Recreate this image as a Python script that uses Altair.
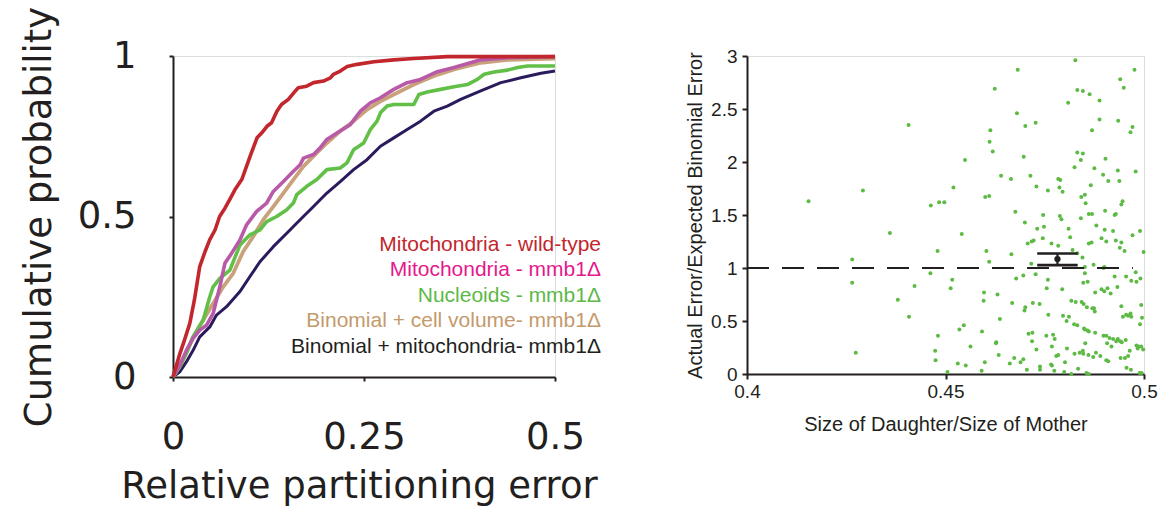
import altair as alt
import pandas as pd

# ---------------- Left panel: cumulative distributions ----------------
wt_x = [0, 0.009, 0.015, 0.022, 0.028, 0.035, 0.042, 0.048, 0.055, 0.061, 0.068, 0.074, 0.081,
        0.090, 0.094, 0.101, 0.110, 0.116, 0.123, 0.129, 0.136, 0.142, 0.151, 0.158, 0.164,
        0.175, 0.184, 0.197, 0.206, 0.210, 0.219, 0.228, 0.241, 0.263, 0.289, 0.315, 0.359,
        0.420, 0.500]
wt_y = [0, 0.073, 0.115, 0.167, 0.240, 0.344, 0.391, 0.427, 0.458, 0.500, 0.526, 0.552, 0.583,
        0.615, 0.641, 0.688, 0.745, 0.760, 0.781, 0.792, 0.828, 0.849, 0.865, 0.885, 0.901,
        0.906, 0.917, 0.922, 0.932, 0.943, 0.953, 0.967, 0.974, 0.982, 0.988, 0.992, 0.998,
        0.998, 0.998]

mito_x = [0, 0.0088, 0.0175, 0.0263, 0.035, 0.0438, 0.0525, 0.0613, 0.0679, 0.0766, 0.0876,
          0.0963, 0.1095, 0.1226, 0.1313, 0.1445, 0.1576, 0.1664, 0.1708, 0.1839, 0.1926,
          0.2014, 0.2145, 0.2320, 0.2452, 0.2583, 0.2715, 0.2890, 0.3065, 0.3240, 0.3459,
          0.3678, 0.4028, 0.4378, 0.5]
mito_y = [0, 0.036, 0.083, 0.120, 0.146, 0.161, 0.198, 0.281, 0.354, 0.385, 0.427, 0.474,
          0.516, 0.542, 0.578, 0.609, 0.641, 0.661, 0.682, 0.693, 0.714, 0.740, 0.760, 0.786,
          0.828, 0.854, 0.870, 0.896, 0.917, 0.927, 0.951, 0.964, 0.988, 0.995, 0.998]

nuc_x = [0, 0.0088, 0.0175, 0.0263, 0.0394, 0.0482, 0.0525, 0.0613, 0.0744, 0.0876, 0.1007,
         0.1138, 0.1226, 0.1357, 0.1489, 0.1576, 0.1620, 0.1751, 0.1883, 0.2014, 0.2189,
         0.2277, 0.2364, 0.2496, 0.2583, 0.2671, 0.2715, 0.2802, 0.2890, 0.3152, 0.3218,
         0.3327, 0.3503, 0.3678, 0.3853, 0.3984, 0.4072, 0.4203, 0.4378, 0.4510, 0.4641, 0.5]
nuc_y = [0, 0.031, 0.073, 0.125, 0.177, 0.250, 0.281, 0.307, 0.333, 0.411, 0.443, 0.458,
         0.484, 0.500, 0.521, 0.542, 0.568, 0.594, 0.615, 0.646, 0.651, 0.667, 0.708, 0.729,
         0.771, 0.797, 0.823, 0.844, 0.849, 0.849, 0.880, 0.888, 0.896, 0.904, 0.911, 0.927,
         0.943, 0.950, 0.956, 0.964, 0.969, 0.969]

bvol_x = [0, 0.0088, 0.0175, 0.0263, 0.0394, 0.0525, 0.0657, 0.0788, 0.0919, 0.1051, 0.1182,
          0.1313, 0.1445, 0.1576, 0.1708, 0.1839, 0.2014, 0.2189, 0.2364, 0.2539, 0.2715,
          0.2890, 0.3152, 0.3415, 0.3678, 0.4028, 0.4378, 0.5]
bvol_y = [0, 0.036, 0.078, 0.125, 0.177, 0.229, 0.281, 0.323, 0.391, 0.438, 0.490, 0.531,
          0.573, 0.615, 0.656, 0.688, 0.729, 0.766, 0.797, 0.833, 0.859, 0.880, 0.911, 0.938,
          0.958, 0.979, 0.988, 0.992]

bmito_x = [0, 0.0088, 0.0175, 0.0263, 0.035, 0.0482, 0.0569, 0.0701, 0.0876, 0.1007, 0.1138,
           0.1313, 0.1489, 0.1664, 0.1839, 0.2014, 0.2189, 0.2364, 0.2539, 0.2715, 0.2890,
           0.3065, 0.3240, 0.3415, 0.3590, 0.3765, 0.4028, 0.4291, 0.4553, 0.4816, 0.5]
bmito_y = [0, 0.016, 0.047, 0.083, 0.125, 0.156, 0.193, 0.219, 0.266, 0.313, 0.359, 0.406,
           0.448, 0.490, 0.531, 0.573, 0.609, 0.646, 0.677, 0.719, 0.745, 0.771, 0.797, 0.828,
           0.844, 0.865, 0.891, 0.917, 0.932, 0.946, 0.953]

curve_names = ["Mitochondria - wild-type", "Mitochondria - mmb1\u0394", "Nucleoids - mmb1\u0394",
               "Binomial + cell volume- mmb1\u0394", "Binomial + mitochondria- mmb1\u0394"]
curve_xs = [wt_x, mito_x, nuc_x, bvol_x, bmito_x]
curve_ys = [wt_y, mito_y, nuc_y, bvol_y, bmito_y]
line_colors = ["#C1272D", "#B85AA8", "#62BF47", "#C9A17A", "#2B1A5C"]
line_widths = [3.6, 3.6, 3.6, 3.8, 3.0]
label_colors = ["#C1272D", "#E5188C", "#5DB946", "#C49A6C", "#231F20"]

# ---------------- Right panel: scatter ----------------
daughter_ratio = [
    0.4155, 0.4292, 0.4265, 0.4265, 0.4274, 0.4360, 0.4407, 0.4380, 0.4422, 0.4408,
    0.4463, 0.4484, 0.4497, 0.4480, 0.4462, 0.4474, 0.4475, 0.4481, 0.4505, 0.4520,
    0.4549, 0.4541, 0.4517, 0.4513, 0.4535, 0.4546, 0.4531, 0.4551, 0.4563, 0.4591,
    0.4600, 0.4610, 0.4613, 0.4611, 0.4619, 0.4624, 0.4640, 0.4603, 0.4610, 0.4597,
    0.4596, 0.4631, 0.4637, 0.4628, 0.4627, 0.4592, 0.4599, 0.4634, 0.4682, 0.4680,
    0.4665, 0.4676, 0.4666, 0.4701, 0.4727, 0.4697, 0.4714, 0.4700, 0.4729, 0.4707,
    0.4717, 0.4722, 0.4731, 0.4746, 0.4748, 0.4745, 0.4758, 0.4767, 0.4678, 0.4696,
    0.4716, 0.4727, 0.4755, 0.4758, 0.4668, 0.4699, 0.4701, 0.4720, 0.4737, 0.4709,
    0.4719, 0.4718, 0.4759, 0.4662, 0.4673, 0.4689, 0.4696, 0.4705, 0.4729, 0.4738,
    0.4738, 0.4754, 0.4771, 0.4775, 0.4768, 0.4768, 0.4766, 0.4779, 0.4784, 0.4774,
    0.4809, 0.4832, 0.4846, 0.4832, 0.4846, 0.4863, 0.4827, 0.4825, 0.4841, 0.4784,
    0.4787, 0.4795, 0.4789, 0.4788, 0.4792, 0.4810, 0.4814, 0.4820, 0.4784, 0.4832,
    0.4841, 0.4842, 0.4851, 0.4853, 0.4866, 0.4861, 0.4869, 0.4869, 0.4875, 0.4861,
    0.4868, 0.4880, 0.4888, 0.4888, 0.4893, 0.4897, 0.4903, 0.4902, 0.4901, 0.4905,
    0.4845, 0.4851, 0.4851, 0.4847, 0.4858, 0.4873, 0.4900, 0.4898, 0.4877, 0.4893,
    0.4900, 0.4908, 0.4916, 0.4910, 0.4934, 0.4938, 0.4926, 0.4929, 0.4922, 0.4929,
    0.4935, 0.4940, 0.4949, 0.4946, 0.4943, 0.4966, 0.4971, 0.4976, 0.4979, 0.4939,
    0.4943, 0.4951, 0.4926, 0.4933, 0.4955, 0.4968, 0.4981, 0.4979, 0.4991, 0.4999,
    0.4990, 0.4971, 0.4794, 0.4817, 0.4828, 0.4843, 0.4848, 0.4856, 0.4870, 0.4876,
    0.4874, 0.4796, 0.4805, 0.4811, 0.4824, 0.4832, 0.4849, 0.4851, 0.4858, 0.4861,
    0.4877, 0.4898, 0.4905, 0.4913, 0.4922, 0.4930, 0.4940, 0.4907, 0.4918, 0.4934,
    0.4944, 0.4954, 0.4943, 0.4947, 0.4955, 0.4960, 0.4968, 0.4966, 0.4993, 0.4995,
    0.4990, 0.4981, 0.4986, 0.4993, 0.4998, 0.4984, 0.4964, 0.4941, 0.4952, 0.4960,
    0.4905, 0.4879, 0.4872, 0.4860, 0.4847, 0.4838, 0.4846, 0.4852, 0.4825, 0.4806,
    0.4801, 0.4799, 0.4817, 0.4834, 0.4855, 0.4861, 0.4956, 0.4967, 0.4994, 0.4989,
    0.4890, 0.4910]
error_ratio = [
    1.63, 1.73, 1.08, 0.86, 0.20, 1.33, 2.35, 0.70, 0.83, 0.54,
    1.59, 1.62, 1.62, 1.16, 0.95, 0.22, 0.13, 0.36, 0.02, 1.76,
    2.02, 1.32, 0.89, 0.81, 0.42, 0.46, 0.10, 0.08, 0.26, 0.03,
    1.67, 1.68, 2.30, 2.19, 2.10, 2.69, 1.87, 1.16, 1.06, 0.77,
    0.69, 0.75, 0.52, 0.30, 0.29, 0.40, 0.11, 0.18, 2.87, 2.46,
    1.84, 1.53, 1.13, 2.34, 2.37, 2.05, 1.87, 1.43, 1.77, 1.23,
    1.25, 1.26, 1.37, 1.50, 1.39, 1.28, 1.73, 1.23, 0.90, 0.93,
    1.04, 0.94, 0.81, 0.89, 0.67, 0.60, 0.63, 0.67, 0.66, 0.38,
    0.39, 0.31, 0.56, 0.10, 0.15, 0.11, 0.14, 0.04, 0.23, 0.07,
    0.04, 0.36, 0.37, 0.33, 0.26, 0.08, 0.09, 0.17, 0.18, 0.03,
    2.56, 2.09, 2.08, 2.68, 2.67, 2.64, 2.96, 1.95, 2.02, 1.84,
    1.76, 1.72, 1.83, 1.49, 1.46, 1.37, 1.29, 1.17, 1.21, 1.14,
    1.47, 1.67, 1.69, 1.61, 1.78, 1.51, 1.51, 2.30, 1.94, 1.23,
    1.24, 1.40, 2.58, 2.40, 1.28, 1.88, 2.03, 1.54, 1.36, 1.25,
    1.10, 1.01, 0.95, 0.86, 0.87, 1.03, 1.01, 1.00, 0.77, 0.80,
    0.78, 0.81, 0.76, 1.82, 1.92, 1.82, 1.50, 1.51, 1.35, 1.26,
    2.39, 2.78, 2.70, 1.63, 1.60, 2.28, 2.33, 2.87, 1.91, 1.19,
    1.24, 1.16, 0.92, 0.82, 0.92, 0.88, 0.87, 0.96, 0.90, 1.15,
    1.35, 1.31, 0.80, 0.69, 0.68, 0.68, 0.66, 0.63, 0.62, 0.59,
    0.62, 0.55, 0.50, 0.54, 0.47, 0.46, 0.43, 0.42, 0.41, 0.40,
    0.39, 0.36, 0.36, 0.34, 0.33, 0.31, 0.31, 0.29, 0.26, 0.33,
    0.30, 0.32, 0.64, 0.54, 0.56, 0.55, 0.54, 0.57, 0.65, 0.53,
    0.47, 0.27, 0.26, 0.26, 0.23, 0.24, 0.22, 0.15, 0.15, 0.17,
    0.13, 0.20, 0.16, 0.18, 0.19, 0.20, 0.22, 0.29, 0.19, 0.24,
    0.11, 0.02, 0.00, 0.05, 0.01, 0.00, 0.06, 0.04, 0.01, 0.01,
    0.17, 0.12]

# mean +/- error summary and binomial expectation
summary_x = [0.4782]
summary_mean = [1.084]
summary_lo = [1.027]
summary_hi = [1.137]
cap_left = [0.4731]
cap_right = [0.4833]
expected_level = [1.0]
expected_from = [0.4]
expected_to = [0.4972]

AX = "#231F20"
LEFT_FONT = "DejaVu Sans"
RIGHT_FONT = "Liberation Sans"

# ---------------- build left chart ----------------
rows = []
for name, xs, ys in zip(curve_names, curve_xs, curve_ys):
    for i, (xv, yv) in enumerate(zip(xs, ys)):
        rows.append({"series": name, "err": xv, "prob": yv, "idx": i})
curves_df = pd.DataFrame(rows)

xl_axis = alt.Axis(title="Relative partitioning error", values=[0, 0.25, 0.5], format=".2~f",
                   grid=False, domainColor=AX, domainWidth=2, tickColor=AX, tickWidth=2,
                   tickSize=4, labelFont=LEFT_FONT, labelFontSize=37, labelColor=AX,
                   labelPadding=38, labelFlush=False, titleFont=LEFT_FONT, titleFontSize=37,
                   titleFontWeight="normal", titleColor=AX, titleBaseline="alphabetic",
                   titleY=120, titleX=186)
yl_axis = alt.Axis(title="Cumulative probability", values=[0, 0.5, 1], format=".2~f",
                   grid=False, domainColor=AX, domainWidth=2, tickColor=AX, tickWidth=2,
                   tickSize=4, labelFont=LEFT_FONT, labelFontSize=37, labelColor=AX,
                   labelPadding=33, labelFlush=False, titleFont=LEFT_FONT, titleFontSize=37,
                   titleFontWeight="normal", titleColor=AX, titleBaseline="alphabetic",
                   titleX=-123)
xl_scale = alt.Scale(domain=[0, 0.5], nice=False, zero=False)
yl_scale = alt.Scale(domain=[0, 1], nice=False, zero=False)

draw_order = [4, 3, 2, 1, 0]
left_layers = []
for k in draw_order:
    left_layers.append(
        alt.Chart(curves_df).transform_filter(alt.datum.series == curve_names[k])
        .mark_line(color=line_colors[k], strokeWidth=line_widths[k], strokeJoin="round")
        .encode(x=alt.X("err:Q", scale=xl_scale, axis=xl_axis),
                y=alt.Y("prob:Q", scale=yl_scale, axis=yl_axis),
                order="idx:Q")
    )

label_x = 428
label_y0 = 194.7
label_step = 25.5
for k, name in enumerate(curve_names):
    left_layers.append(
        alt.Chart(pd.DataFrame({"label": [name]}))
        .mark_text(align="right", baseline="alphabetic", font=RIGHT_FONT, fontSize=21,
                   color=label_colors[k])
        .encode(text="label:N", x=alt.value(label_x), y=alt.value(label_y0 + k * label_step))
    )

left = alt.layer(*left_layers).properties(width=382, height=321)

# ---------------- build right chart ----------------
dots_df = pd.DataFrame({"ratio": daughter_ratio, "err": error_ratio})
summary_df = pd.DataFrame({"x": summary_x, "mean": summary_mean, "lo": summary_lo,
                           "hi": summary_hi, "cl": cap_left, "cr": cap_right})
ref_df = pd.DataFrame({"x": expected_from, "x2": expected_to, "y": expected_level})

xr_scale = alt.Scale(domain=[0.4, 0.5], nice=False, zero=False)
yr_scale = alt.Scale(domain=[0, 3], nice=False, zero=False)
xr_axis = alt.Axis(title="Size of Daughter/Size of Mother", values=[0.4, 0.45, 0.5], format=".2~f",
                   grid=False, domainColor=AX, domainWidth=2, tickColor=AX, tickWidth=2,
                   tickSize=5, labelFont=RIGHT_FONT, labelFontSize=19, labelColor=AX,
                   labelPadding=3, labelFlush=False, titleFont=RIGHT_FONT, titleFontSize=20,
                   titleFontWeight="normal", titleColor=AX, titleBaseline="alphabetic",
                   titleY=56)
yr_axis = alt.Axis(title="Actual Error/Expected Binomial Error",
                   values=[0, 0.5, 1, 1.5, 2, 2.5, 3], format=".1~f",
                   grid=False, domainColor=AX, domainWidth=2, tickColor=AX, tickWidth=2,
                   tickSize=5, labelFont=RIGHT_FONT, labelFontSize=19, labelColor=AX,
                   labelPadding=5, labelFlush=False, titleFont=RIGHT_FONT, titleFontSize=20,
                   titleFontWeight="normal", titleColor=AX, titleBaseline="alphabetic",
                   titleX=-46)


def XR(f):
    return alt.X(f, type="quantitative", scale=xr_scale, axis=xr_axis)


def YR(f):
    return alt.Y(f, type="quantitative", scale=yr_scale, axis=yr_axis)


dots = alt.Chart(dots_df).mark_circle(size=16, color="#5DBA44", opacity=1).encode(
    x=XR("ratio"), y=YR("err"))
ref_line = alt.Chart(ref_df).mark_rule(color=AX, strokeWidth=2.2, strokeDash=[22, 13]).encode(
    x=XR("x"), x2="x2", y=YR("y"))
err_v = alt.Chart(summary_df).mark_rule(color=AX, strokeWidth=2.2).encode(
    x=XR("x"), y=YR("lo"), y2="hi")
cap_hi = alt.Chart(summary_df).mark_rule(color=AX, strokeWidth=2.6).encode(
    x=XR("cl"), x2="cr", y=YR("hi"))
cap_lo = alt.Chart(summary_df).mark_rule(color=AX, strokeWidth=2.6).encode(
    x=XR("cl"), x2="cr", y=YR("lo"))
mean_pt = alt.Chart(summary_df).mark_circle(size=40, color=AX, opacity=1).encode(
    x=XR("x"), y=YR("mean"))

right = alt.layer(dots, ref_line, err_v, cap_hi, cap_lo, mean_pt).properties(width=397, height=318)

chart = (
    alt.hconcat(left, right, spacing=192, bounds="flush")
    .properties(padding={"left": 19, "top": 5, "right": 5, "bottom": 5}, background="white")
    .configure_view(stroke=None)
    .configure(font=RIGHT_FONT)
)

chart.save("out.html", embed_options={"renderer": "svg", "actions": False})
